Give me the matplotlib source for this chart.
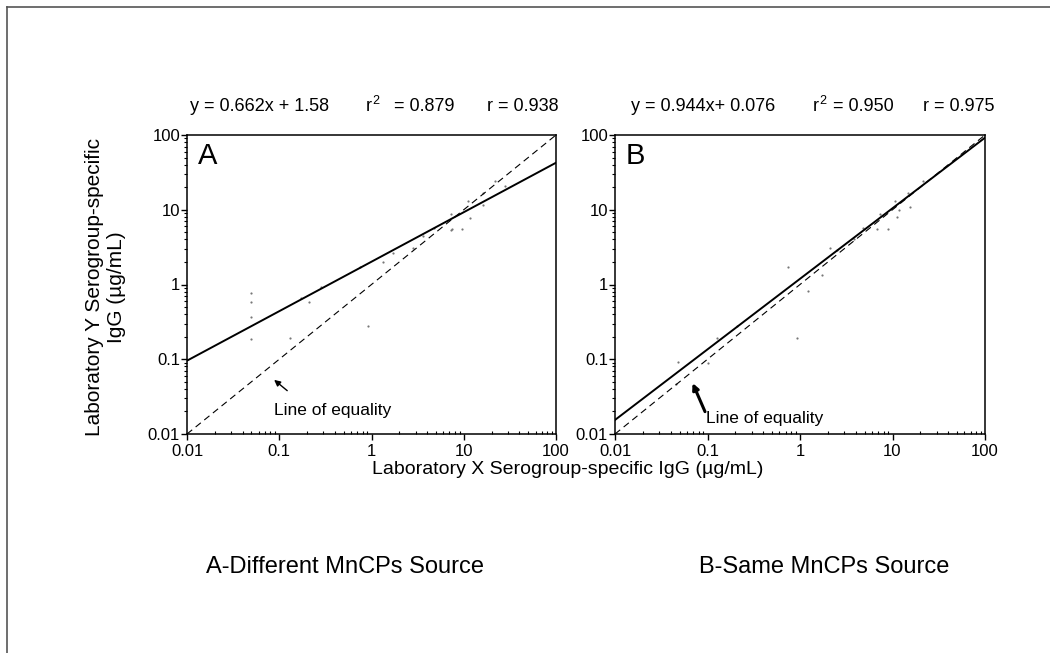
import numpy as np
import matplotlib.pyplot as plt
from matplotlib.lines import Line2D
from matplotlib.ticker import LogLocator, NullFormatter, FixedFormatter, FixedLocator

plt.rcParams['font.family'] = ['Liberation Sans', 'DejaVu Sans']

# lab comparison values, ug/mL
xa = [0.049, 0.049, 0.049, 0.049, 0.13, 0.17, 0.21, 0.28, 0.92, 0.75, 1.34, 1.7,
      2.8, 3.6, 4.7, 7.2, 7.2, 7.5, 9.5, 11, 11.7, 16, 16, 22, 28]
ya = [0.76, 0.58, 0.37, 0.185, 0.19, 0.65, 0.58, 0.93, 0.28, 1.74, 2.0, 2.6,
      3.1, 4.4, 5.7, 8.9, 5.4, 5.5, 5.5, 13, 7.7, 11.5, 17, 24, 21]

xb = [0.048, 0.046, 0.1, 0.126, 0.21, 0.74, 0.92, 1.22, 1.72, 2.1, 2.5, 3.8, 4.8,
      6.8, 7.3, 9, 10.7, 11.1, 11.9, 14.8, 15.5, 21.5]
yb = [0.093, 0.046, 0.089, 0.19, 0.28, 1.7, 0.19, 0.81, 1.36, 3.1, 2.9, 4.0, 5.7,
      5.5, 8.7, 5.6, 13.2, 7.9, 10, 17, 11, 24.5]

# log-log fits: slope, log10 intercept
fit_a = (0.662, 0.305)
fit_b = (0.944, 0.076)

ticks = [0.01, 0.1, 1, 10, 100]
tick_labels = ['0.01', '0.1', '1', '10', '100']

eq_a = ['y = 0.662x + 1.58', '= 0.879', 'r = 0.938']
eq_b = ['y = 0.944x+ 0.076', '= 0.950', 'r = 0.975']

W, H = 1050, 653


def fx(px):
    return px / W


def fy(py):
    return 1 - py / H


fig = plt.figure(figsize=(10.5, 6.53), dpi=100)

# frame round the figure (only left and top edges show)
fig.add_artist(Line2D([fx(7), fx(7)], [fy(7), 0], color='#555555', lw=1.2))
fig.add_artist(Line2D([fx(7), 1], [fy(7), fy(7)], color='#555555', lw=1.2))

ax_a = fig.add_axes([fx(187), fy(434), (556 - 187) / W, (434 - 135) / H])
ax_b = fig.add_axes([fx(615), fy(434), (985 - 615) / W, (434 - 135) / H])


def panel(ax, xs, ys, fit, letter):
    ax.set_xscale('log')
    ax.set_yscale('log')
    ax.set_xlim(0.01, 100)
    ax.set_ylim(0.01, 100)
    ax.scatter(xs, ys, s=2.5, color='#777777', lw=0, zorder=2)
    xx = np.array([0.01, 100])
    ax.plot(xx, 10 ** (fit[0] * np.log10(xx) + fit[1]), color='black', lw=1.4, zorder=3)
    ax.plot(xx, xx, color='black', lw=0.8, dashes=(6, 4), zorder=3)
    ax.text(0.03, 0.975, letter, transform=ax.transAxes, fontsize=21, va='top', ha='left')

    ax.xaxis.set_major_locator(FixedLocator(ticks))
    ax.yaxis.set_major_locator(FixedLocator(ticks))
    ax.xaxis.set_major_formatter(FixedFormatter(tick_labels))
    ax.yaxis.set_major_formatter(FixedFormatter(tick_labels))
    ax.xaxis.set_minor_locator(LogLocator(base=10, subs=np.arange(2, 10), numticks=20))
    ax.yaxis.set_minor_locator(LogLocator(base=10, subs=np.arange(2, 10), numticks=20))
    ax.xaxis.set_minor_formatter(NullFormatter())
    ax.yaxis.set_minor_formatter(NullFormatter())
    ax.tick_params(axis='both', which='major', direction='out', length=4, width=1,
                   labelsize=12, pad=1)
    ax.tick_params(axis='x', which='major', pad=3)
    ax.tick_params(axis='x', which='minor', direction='in', length=2.5, width=0.8)
    ax.tick_params(axis='y', which='minor', direction='out', length=2.5, width=0.8)
    for sp in ax.spines.values():
        sp.set_linewidth(1.1)


panel(ax_a, xa, ya, fit_a, 'A')
panel(ax_b, xb, yb, fit_b, 'B')

# line of equality callouts
ax_a.annotate('', xy=(0.088, 0.053), xytext=(0.122, 0.038),
              arrowprops=dict(arrowstyle='-|>', color='black', lw=1.0,
                              mutation_scale=9, shrinkA=0, shrinkB=0))
ax_a.text(0.088, 0.0179, 'Line of equality', fontsize=12.5, va='baseline', ha='left')

ax_b.annotate('', xy=(0.069, 0.048), xytext=(0.094, 0.0199),
              arrowprops=dict(arrowstyle='-|>', color='black', lw=2.2,
                              mutation_scale=9, shrinkA=0, shrinkB=0))
ax_b.text(0.0964, 0.0141, 'Line of equality', fontsize=12.5, va='baseline', ha='left')

# fit statistics above each panel
base = fy(111)
for eq, x0, xr, xs, xe in [(eq_a, 190, 366, 394, 487), (eq_b, 631, 813, 833, 923)]:
    fig.text(fx(x0), base, eq[0], fontsize=13, va='baseline')
    fig.text(fx(xr), base, 'r', fontsize=13, va='baseline')
    fig.text(fx(xr + 6.5), fy(104), '2', fontsize=9, va='baseline')
    fig.text(fx(xs), base, eq[1], fontsize=13, va='baseline')
    fig.text(fx(xe), base, eq[2], fontsize=13, va='baseline')

fig.text(fx(106), fy(287), 'Laboratory Y Serogroup-specific\nIgG (\u00b5g/mL)', rotation=90,
         fontsize=15, ha='center', va='center', multialignment='center', linespacing=1.2)
fig.text(fx(568), fy(469), 'Laboratory X Serogroup-specific IgG (\u00b5g/mL)',
         fontsize=14, ha='center', va='center')

fig.text(fx(345), fy(573), 'A-Different MnCPs Source', fontsize=17, ha='center', va='baseline')
fig.text(fx(824), fy(573), 'B-Same MnCPs Source', fontsize=17, ha='center', va='baseline')

fig.savefig('out.png', dpi=100)
